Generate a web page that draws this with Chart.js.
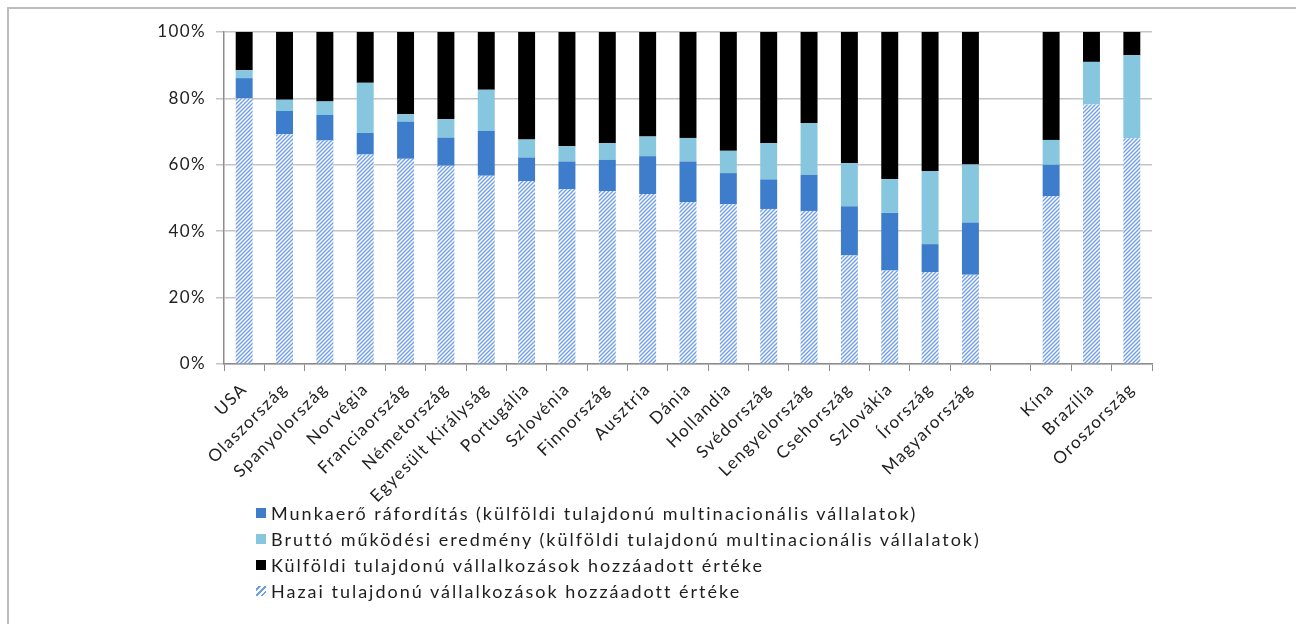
<!DOCTYPE html>
<html lang="hu">
<head>
<meta charset="utf-8">
<title>Hozzáadott érték megoszlása</title>
<script src="https://cdn.jsdelivr.net/npm/chart.js@4.4.1/dist/chart.umd.min.js"></script>
<style>
  html, body { margin: 0; padding: 0; background: #fff; }
  body { width: 1296px; height: 624px; position: relative; overflow: hidden; font-family: Lato, "Open Sans", sans-serif; }
  #frame { position: absolute; left: 7px; top: 7px; width: 1300px; height: 630px; border-top: 2px solid #bdbdbd; border-left: 2px solid #bdbdbd; }
  #chartBox { position: absolute; left: 0; top: 0; width: 1296px; height: 624px; }
  #legend { position: absolute; left: 256px; top: 500px; font-size: 18px; letter-spacing: 2px; color: #1e1e1e; }
  .item { display: flex; align-items: center; height: 26px; white-space: nowrap; }
  .swatch { width: 10px; height: 10px; margin-right: 5px; flex: none; }
</style>
</head>
<body>
<div id="frame"></div>
<div id="chartBox"><canvas id="chartCanvas"></canvas></div>
<div id="legend"></div>

<script>
// Countries (empty slot separates the non-EU group)
const categories = ["USA", "Olaszország", "Spanyolország", "Norvégia", "Franciaország", "Németország",
  "Egyesült Királyság", "Portugália", "Szlovénia", "Finnország", "Ausztria", "Dánia", "Hollandia",
  "Svédország", "Lengyelország", "Csehország", "Szlovákia", "Írország", "Magyarország", "",
  "Kína", "Brazília", "Oroszország"];

// shares of value added, % (stacked bottom to top)
const hazai      = [80.0, 69.2, 67.3, 63.1, 61.8, 59.7, 56.7, 55.1, 52.6, 52.1, 51.2, 48.7, 48.1, 46.7, 46.1, 32.7, 28.2, 27.7, 26.9, null, 50.6, 78.2, 68.0];
const munkaero   = [6.1, 7.0, 7.7, 6.5, 11.2, 8.5, 13.5, 7.1, 8.4, 9.4, 11.4, 12.3, 9.4, 8.9, 10.9, 14.8, 17.3, 8.4, 15.7, null, 9.4, 0, 0];
const brutto     = [2.4, 3.4, 4.1, 15.1, 2.2, 5.5, 12.4, 5.4, 4.6, 5.0, 5.9, 7.1, 6.7, 10.9, 15.6, 13.0, 10.2, 22.0, 17.5, null, 7.5, 12.8, 25.0];
const kulfoldi   = [11.5, 20.4, 20.9, 15.3, 24.8, 26.3, 17.4, 32.4, 34.4, 33.5, 31.5, 31.9, 35.8, 33.5, 27.4, 39.5, 44.3, 41.9, 39.9, null, 32.5, 9.0, 7.0];

const yTicks = [0, 20, 40, 60, 80, 100];

const DARK = "#3d7dcc";
const LIGHT = "#86c7df";
const STRIPE = "#6f9fe8";

function makeHatch() {
  const c = document.createElement("canvas");
  c.width = 4; c.height = 4;
  const g = c.getContext("2d");
  g.fillStyle = "#fff";
  g.fillRect(0, 0, 4, 4);
  g.strokeStyle = STRIPE;
  g.lineWidth = 1.4;
  g.beginPath();
  g.moveTo(0, 4); g.lineTo(4, 0);
  g.moveTo(-1, 1); g.lineTo(1, -1);
  g.moveTo(3, 5); g.lineTo(5, 3);
  g.stroke();
  return g.createPattern(c, "repeat");
}

const hatch = makeHatch();
const axisFont = { family: "Lato, 'Open Sans', sans-serif", size: 17 };

// wider tracking for the axis labels
const spacing = {
  id: "spacing",
  beforeDraw: chart => { chart.ctx.letterSpacing = "1.4px"; },
  afterDraw: chart => { chart.ctx.letterSpacing = "0px"; }
};

const datasets = [
  { label: "Hazai tulajdonú vállalkozások hozzáadott értéke", data: hazai, backgroundColor: hatch },
  { label: "Munkaerő ráfordítás (külföldi tulajdonú multinacionális vállalatok)", data: munkaero, backgroundColor: DARK },
  { label: "Bruttó működési eredmény (külföldi tulajdonú multinacionális vállalatok)", data: brutto, backgroundColor: LIGHT },
  { label: "Külföldi tulajdonú vállalkozások hozzáadott értéke", data: kulfoldi, backgroundColor: "#000" }
];

const chart = new Chart(document.getElementById("chartCanvas"), {
  type: "bar",
  data: {
    labels: categories,
    datasets: datasets.map(d => ({ ...d, borderWidth: 0, barPercentage: 0.42, categoryPercentage: 1 }))
  },
  plugins: [spacing],
  options: {
    responsive: true,
    maintainAspectRatio: false,
    animation: false,
    layout: { padding: { left: 144, right: 144, top: 32, bottom: 110 } },
    plugins: {
      legend: { display: false },
      tooltip: { enabled: false }
    },
    scales: {
      x: {
        stacked: true,
        afterFit: s => { s.height = 150; },
        ticks: { color: "#222", font: axisFont, minRotation: 45, maxRotation: 45, autoSkip: false, padding: 8 },
        grid: { display: true, drawOnChartArea: false, offset: true, tickLength: 7, color: "#8c8c8c" },
        border: { color: "#8c8c8c", width: 1.5 }
      },
      y: {
        stacked: true,
        min: 0,
        max: 100,
        afterFit: s => { s.width = 80; },
        afterBuildTicks: s => { s.ticks = yTicks.map(v => ({ value: v })); },
        ticks: { color: "#222", font: axisFont, padding: 10, callback: v => v + "%" },
        grid: { color: "#c4c4c4", lineWidth: 1.5, tickLength: 8 },
        border: { color: "#8c8c8c", width: 1.5 }
      }
    }
  }
});

// legend list, built from the chart datasets
const legendOrder = [1, 2, 3, 0];
const legendEl = document.getElementById("legend");
legendOrder.forEach(i => {
  const ds = chart.data.datasets[i];
  const row = document.createElement("div");
  row.className = "item";
  const sw = document.createElement("span");
  sw.className = "swatch";
  if (i === 0) {
    sw.style.background = `repeating-linear-gradient(135deg, #fff 0 2px, ${STRIPE} 2px 4px)`;
  } else {
    sw.style.background = ds.backgroundColor;
  }
  row.appendChild(sw);
  row.appendChild(document.createTextNode(ds.label));
  legendEl.appendChild(row);
});
</script>
</body>
</html>
